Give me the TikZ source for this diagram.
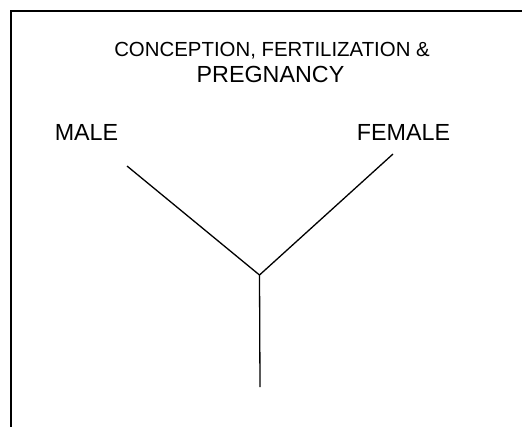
\documentclass[tikz,border=0pt]{standalone}
\usepackage{fontspec}
\setmainfont{Liberation Sans}
\usepackage{tikz}
\usetikzlibrary{positioning}

\begin{document}
\begin{tikzpicture}[x=1bp, y=-1bp,
  lbl/.style={inner sep=0pt, anchor=base, font=\fontsize{23.3bp}{28bp}\selectfont},
  ttl/.style={inner sep=0pt, anchor=base, font=\fontsize{20.4bp}{24bp}\selectfont},
  branch/.style={line width=1.3bp}]
  \useasboundingbox (0,0) rectangle (522,426);
  % open frame, cut by the page on the right and at the bottom
  \draw[line width=1.6bp] (11,430) -- (11,11) -- (530,11);
  \node[ttl] (head) at (272,56) {CONCEPTION, FERTILIZATION \&};
  \node[lbl] (preg) at (270.5,82.5) {PREGNANCY};
  \node[lbl] (male) at (86.5,140) {MALE};
  \node[lbl] (female) at (403.5,140) {FEMALE};
  \coordinate (m) at (127,166);
  \coordinate (f) at (393,154);
  \coordinate (j) at (259.5,275);
  \coordinate (b) at (260,387);
  \foreach \a/\b in {m/j,f/j,j/b} \draw[branch] (\a) -- (\b);
\end{tikzpicture}
\end{document}
